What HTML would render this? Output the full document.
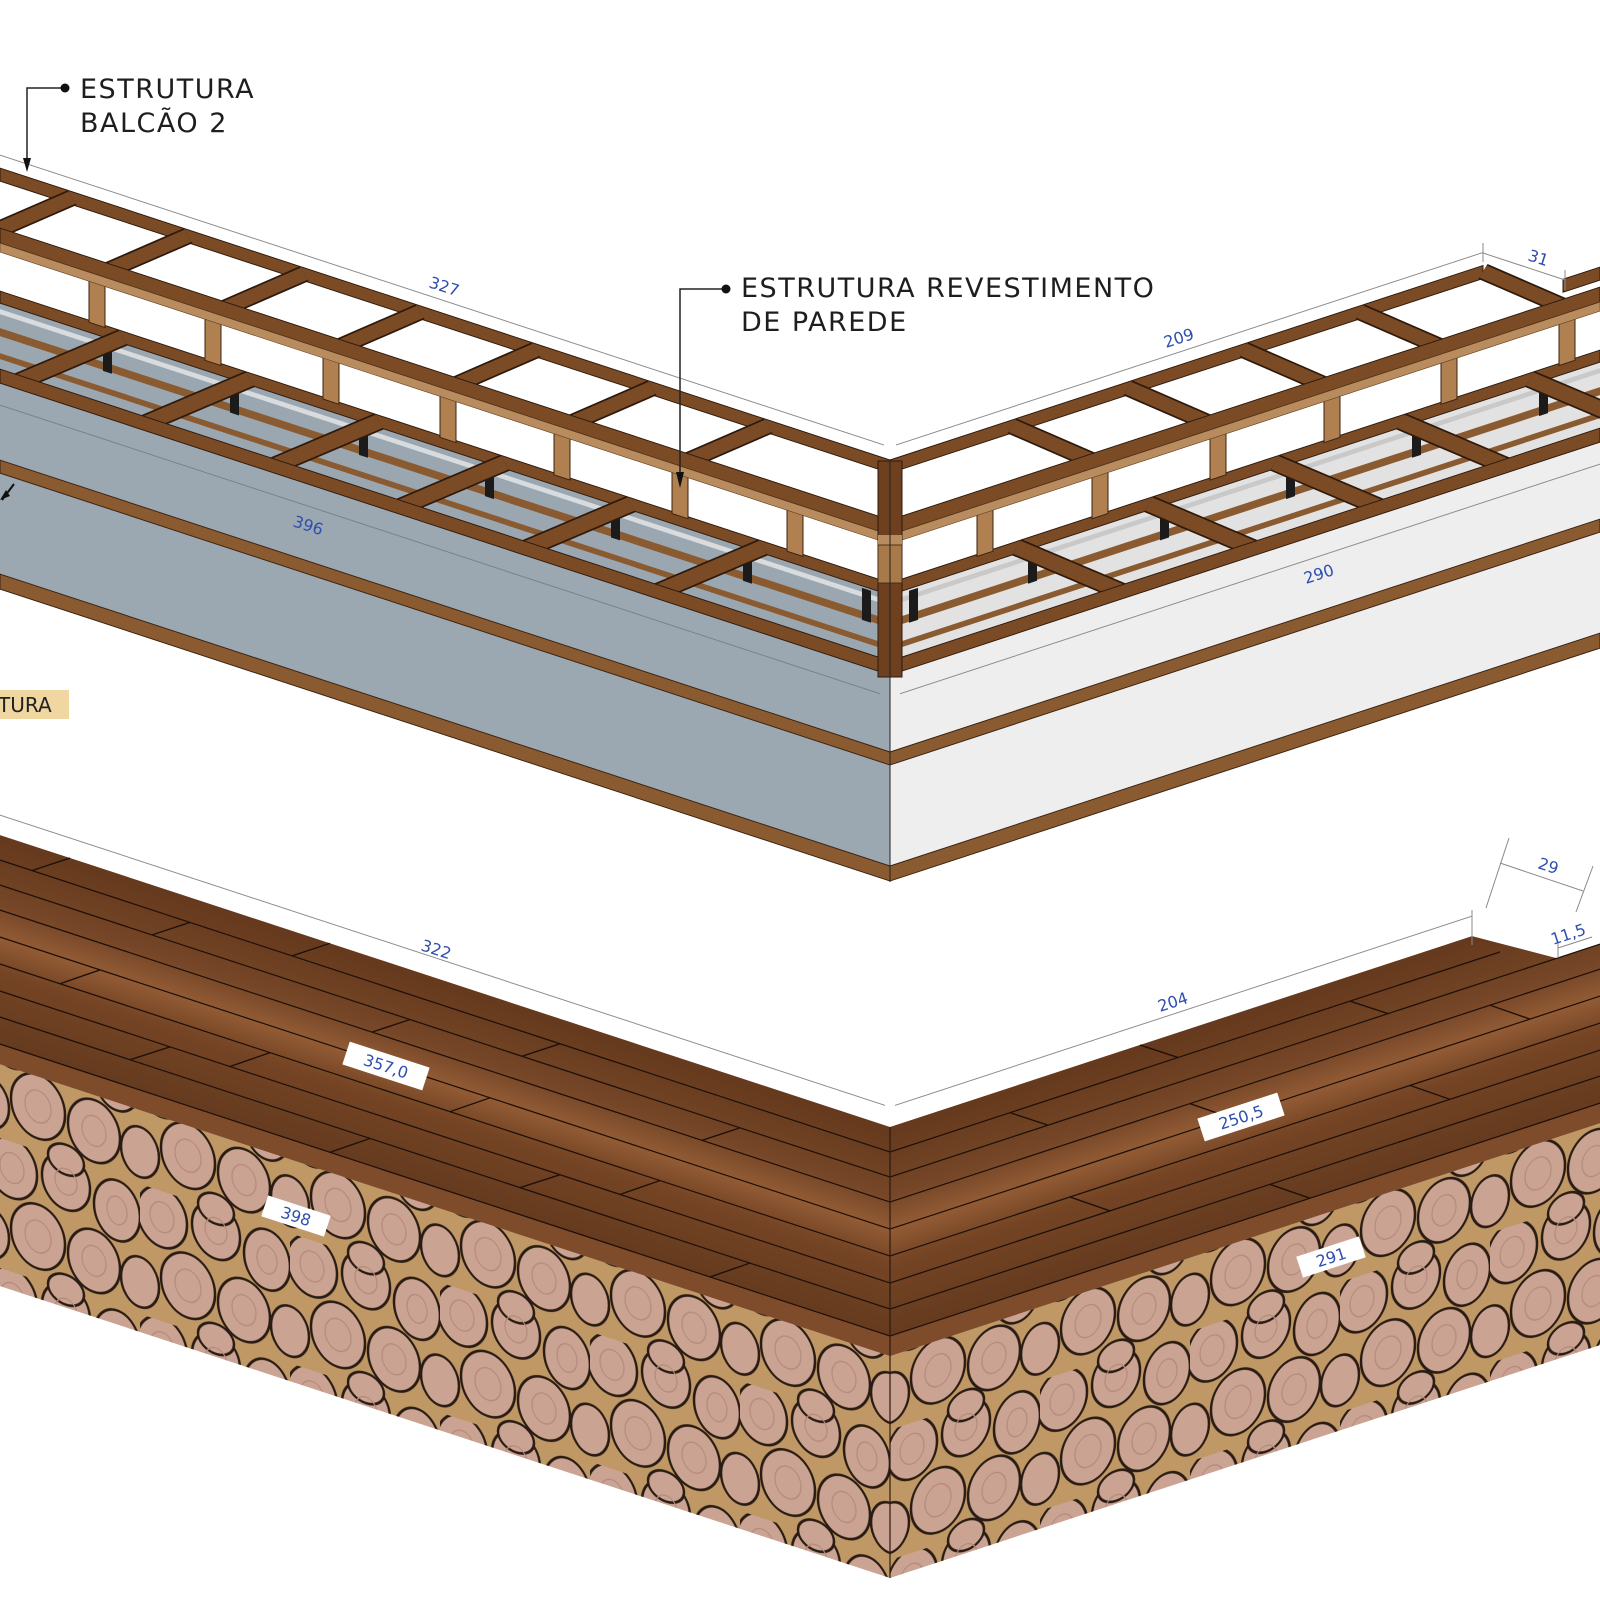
<!DOCTYPE html>
<html><head><meta charset="utf-8"><style>
html,body{margin:0;padding:0;background:#fff;}
svg{display:block;}
text{font-family:"DejaVu Sans","Liberation Sans",sans-serif;}
.dim{fill:#2f4fae;font-size:16px;}
.lbl{fill:#1e1e1e;font-size:27px;letter-spacing:1.5px;}
</style></head><body>
<svg width="1600" height="1600" viewBox="0 0 1600 1600" xmlns="http://www.w3.org/2000/svg">
<defs>
  <pattern id="logs" patternUnits="userSpaceOnUse" width="150" height="130">
    <rect width="150" height="130" fill="#bf9866"/>
    <g fill="#caa393" stroke="#2a1c12" stroke-width="2.5">
      <ellipse cx="22" cy="26" rx="25" ry="30"/>
      <ellipse cx="76" cy="22" rx="24" ry="28"/>
      <ellipse cx="127" cy="34" rx="23" ry="30"/>
      <ellipse cx="48" cy="86" rx="27" ry="32"/>
      <ellipse cx="104" cy="92" rx="26" ry="31"/>
      <ellipse cx="0" cy="98" rx="19" ry="25"/>
      <ellipse cx="150" cy="98" rx="19" ry="25"/>
      <ellipse cx="76" cy="130" rx="18" ry="15"/>
      <ellipse cx="76" cy="0" rx="18" ry="15"/>
    </g>
    <g fill="none" stroke="#b48a7c" stroke-width="1.2">
      <ellipse cx="22" cy="26" rx="12" ry="15"/>
      <ellipse cx="76" cy="22" rx="11" ry="13"/>
      <ellipse cx="127" cy="34" rx="10" ry="14"/>
      <ellipse cx="48" cy="86" rx="13" ry="16"/>
      <ellipse cx="104" cy="92" rx="12" ry="15"/>
    </g>
  </pattern>
  <linearGradient id="wood" x1="0" y1="0" x2="0" y2="1">
    <stop offset="0" stop-color="#65391d"/>
    <stop offset="0.3" stop-color="#754627"/>
    <stop offset="0.45" stop-color="#925b35"/>
    <stop offset="0.6" stop-color="#744424"/>
    <stop offset="1" stop-color="#61381d"/>
  </linearGradient>
</defs>

<!-- ================= UPPER STRUCTURE: LEFT ARM ================= -->
<g transform="translate(890,0) skewY(18.16)">
  <rect x="-890" y="595" width="890" height="72" fill="#9aa6b0"/>
  <rect x="-890" y="601" width="890" height="5" fill="#d9dcdf"/>
  <rect x="-890" y="620" width="890" height="8" fill="#8a5a30"/>
  <rect x="-890" y="645" width="890" height="6" fill="#8a5a30"/>
  <rect x="-890" y="673" width="890" height="208" fill="#9ba7b1"/>
  <rect x="-890" y="752" width="890" height="13" fill="#8a5a30" stroke="#3a2210" stroke-width="1"/>
  <rect x="-890" y="866" width="890" height="15" fill="#8a5a30" stroke="#3a2210" stroke-width="1"/>
  <line x1="-890" y1="447" x2="-6" y2="447" stroke="#8a8a8a" stroke-width="1"/>
  <line x1="-890" y1="697" x2="-10" y2="697" stroke="#7a8088" stroke-width="1"/>
  <rect x="-890" y="583" width="890" height="12" fill="#7b4b26" stroke="#2e1a0c" stroke-width="1"/>
  <g fill="#1b1b1b">
    <rect x="-787" y="597" width="9" height="32"/><rect x="-660" y="597" width="9" height="32"/>
    <rect x="-531" y="597" width="9" height="32"/><rect x="-405" y="597" width="9" height="32"/>
    <rect x="-279" y="597" width="9" height="32"/><rect x="-147" y="597" width="9" height="32"/>
    <rect x="-28" y="597" width="9" height="32"/>
  </g>
  <g stroke="#2e1a0c" stroke-width="16" stroke-linecap="butt">
    <line x1="-767" y1="589" x2="-872" y2="668"/><line x1="-640" y1="589" x2="-745" y2="668"/>
    <line x1="-511" y1="589" x2="-616" y2="668"/><line x1="-385" y1="589" x2="-490" y2="668"/>
    <line x1="-259" y1="589" x2="-364" y2="668"/><line x1="-127" y1="589" x2="-232" y2="668"/>
  </g>
  <g stroke="#7b4b26" stroke-width="13">
    <line x1="-767" y1="589" x2="-872" y2="668"/><line x1="-640" y1="589" x2="-745" y2="668"/>
    <line x1="-511" y1="589" x2="-616" y2="668"/><line x1="-385" y1="589" x2="-490" y2="668"/>
    <line x1="-259" y1="589" x2="-364" y2="668"/><line x1="-127" y1="589" x2="-232" y2="668"/>
  </g>
  <rect x="-890" y="661" width="890" height="14" fill="#7b4b26" stroke="#2e1a0c" stroke-width="1"/>
  <g fill="#b08050" stroke="#3a2210" stroke-width="1">
    <rect x="-801" y="543" width="16" height="42"/><rect x="-685" y="543" width="16" height="42"/>
    <rect x="-567" y="543" width="16" height="42"/><rect x="-450" y="543" width="16" height="42"/>
    <rect x="-336" y="543" width="16" height="42"/><rect x="-218" y="543" width="16" height="42"/>
    <rect x="-103" y="543" width="16" height="42"/>
  </g>
  <rect x="-890" y="460" width="890" height="13" fill="#7b4b26" stroke="#2e1a0c" stroke-width="1"/>
  <g stroke="#2e1a0c" stroke-width="15">
    <line x1="-818" y1="466" x2="-898" y2="527"/><line x1="-702" y1="466" x2="-782" y2="527"/>
    <line x1="-586" y1="466" x2="-666" y2="527"/><line x1="-470" y1="466" x2="-550" y2="527"/>
    <line x1="-354" y1="466" x2="-434" y2="527"/><line x1="-238" y1="466" x2="-318" y2="527"/>
    <line x1="-122" y1="466" x2="-202" y2="527"/>
  </g>
  <g stroke="#7b4b26" stroke-width="12">
    <line x1="-818" y1="466" x2="-898" y2="527"/><line x1="-702" y1="466" x2="-782" y2="527"/>
    <line x1="-586" y1="466" x2="-666" y2="527"/><line x1="-470" y1="466" x2="-550" y2="527"/>
    <line x1="-354" y1="466" x2="-434" y2="527"/><line x1="-238" y1="466" x2="-318" y2="527"/>
    <line x1="-122" y1="466" x2="-202" y2="527"/>
  </g>
  <rect x="-890" y="520" width="890" height="15" fill="#7b4b26" stroke="#2e1a0c" stroke-width="1"/>
  <rect x="-890" y="535" width="890" height="9" fill="#b88c5e" stroke="#5a3a1c" stroke-width="0.6"/>
</g>

<!-- ================= UPPER STRUCTURE: RIGHT ARM ================= -->
<g transform="translate(890,0) skewY(-18.16)">
  <rect x="0" y="595" width="710" height="72" fill="#e2e2e2"/>
  <rect x="0" y="601" width="710" height="5" fill="#c9c9c9"/>
  <rect x="0" y="620" width="710" height="8" fill="#8a5a30"/>
  <rect x="0" y="645" width="710" height="6" fill="#8a5a30"/>
  <rect x="0" y="673" width="710" height="208" fill="#eeeeee"/>
  <rect x="0" y="752" width="710" height="13" fill="#8a5a30" stroke="#3a2210" stroke-width="1"/>
  <rect x="0" y="866" width="710" height="15" fill="#8a5a30" stroke="#3a2210" stroke-width="1"/>
  <line x1="6" y1="447" x2="593" y2="447" stroke="#8a8a8a" stroke-width="1"/>
  <line x1="10" y1="697" x2="710" y2="697" stroke="#8a8a8a" stroke-width="1"/>
  <rect x="0" y="583" width="710" height="12" fill="#7b4b26" stroke="#2e1a0c" stroke-width="1"/>
  <g fill="#1b1b1b">
    <rect x="19" y="597" width="9" height="32"/><rect x="138" y="597" width="9" height="32"/>
    <rect x="270" y="597" width="9" height="32"/><rect x="396" y="597" width="9" height="32"/>
    <rect x="522" y="597" width="9" height="32"/><rect x="649" y="597" width="9" height="32"/>
  </g>
  <g stroke="#2e1a0c" stroke-width="16">
    <line x1="127" y1="589" x2="232" y2="668"/><line x1="259" y1="589" x2="364" y2="668"/>
    <line x1="385" y1="589" x2="490" y2="668"/><line x1="511" y1="589" x2="616" y2="668"/>
    <line x1="640" y1="589" x2="745" y2="668"/>
  </g>
  <g stroke="#7b4b26" stroke-width="13">
    <line x1="127" y1="589" x2="232" y2="668"/><line x1="259" y1="589" x2="364" y2="668"/>
    <line x1="385" y1="589" x2="490" y2="668"/><line x1="511" y1="589" x2="616" y2="668"/>
    <line x1="640" y1="589" x2="745" y2="668"/>
  </g>
  <rect x="0" y="661" width="710" height="14" fill="#7b4b26" stroke="#2e1a0c" stroke-width="1"/>
  <g fill="#b08050" stroke="#3a2210" stroke-width="1">
    <rect x="87" y="543" width="16" height="42"/><rect x="202" y="543" width="16" height="42"/>
    <rect x="320" y="543" width="16" height="42"/><rect x="434" y="543" width="16" height="42"/>
    <rect x="551" y="543" width="16" height="42"/><rect x="669" y="543" width="16" height="42"/>
  </g>
  <rect x="0" y="460" width="593" height="13" fill="#7b4b26" stroke="#2e1a0c" stroke-width="1"/>
  <rect x="673" y="500" width="37" height="13" fill="#7b4b26" stroke="#2e1a0c" stroke-width="1"/>
  <g stroke="#2e1a0c" stroke-width="15">
    <line x1="122" y1="466" x2="202" y2="527"/><line x1="238" y1="466" x2="318" y2="527"/>
    <line x1="354" y1="466" x2="434" y2="527"/><line x1="470" y1="466" x2="550" y2="527"/>
    <line x1="593" y1="466" x2="673" y2="527"/>
  </g>
  <g stroke="#7b4b26" stroke-width="12">
    <line x1="122" y1="466" x2="202" y2="527"/><line x1="238" y1="466" x2="318" y2="527"/>
    <line x1="354" y1="466" x2="434" y2="527"/><line x1="470" y1="466" x2="550" y2="527"/>
    <line x1="593" y1="466" x2="673" y2="527"/>
  </g>
  <rect x="0" y="520" width="710" height="15" fill="#7b4b26" stroke="#2e1a0c" stroke-width="1"/>
  <rect x="0" y="535" width="710" height="9" fill="#b88c5e" stroke="#5a3a1c" stroke-width="0.6"/>
</g>

<!-- corner post -->
<rect x="878" y="461" width="24" height="216" fill="#6e4020" stroke="#2e1a0c" stroke-width="1"/>
<rect x="878" y="535" width="24" height="10" fill="#b88c5e"/>
<rect x="878" y="545" width="24" height="38" fill="#a87a4a" stroke="#3a2210" stroke-width="0.8"/>
<line x1="890" y1="461" x2="890" y2="882" stroke="#222" stroke-width="1"/>

<!-- ================= LOWER COUNTER: LEFT ================= -->
<g transform="translate(890,0) skewY(18.16)">
  <rect x="-890" y="1356" width="890" height="222" fill="url(#logs)"/>
  <rect x="-890" y="1127" width="890" height="229" fill="url(#wood)"/>
  <rect x="-890" y="1336" width="890" height="20" fill="#7e4c2b"/>
  <g stroke="#1e1008" stroke-width="1.3">
    <line x1="-890" y1="1152" x2="0" y2="1152"/><line x1="-890" y1="1177" x2="0" y2="1177"/>
    <line x1="-890" y1="1202" x2="0" y2="1202"/><line x1="-890" y1="1229" x2="0" y2="1229"/>
    <line x1="-890" y1="1256" x2="0" y2="1256"/><line x1="-890" y1="1283" x2="0" y2="1283"/>
    <line x1="-890" y1="1309" x2="0" y2="1309"/><line x1="-890" y1="1336" x2="0" y2="1336"/>
  </g>
  <g stroke="#1e1008" stroke-width="1.2">
    <line x1="-820" y1="1127" x2="-858" y2="1152"/><line x1="-560" y1="1127" x2="-598" y2="1152"/>
    <line x1="-700" y1="1152" x2="-738" y2="1177"/><line x1="-330" y1="1152" x2="-368" y2="1177"/>
    <line x1="-480" y1="1177" x2="-518" y2="1202"/><line x1="-150" y1="1177" x2="-188" y2="1202"/>
    <line x1="-790" y1="1229" x2="-830" y2="1256"/><line x1="-400" y1="1229" x2="-440" y2="1256"/>
    <line x1="-620" y1="1256" x2="-660" y2="1283"/><line x1="-230" y1="1256" x2="-270" y2="1283"/>
    <line x1="-720" y1="1283" x2="-760" y2="1309"/><line x1="-330" y1="1283" x2="-370" y2="1309"/>
    <line x1="-520" y1="1309" x2="-560" y2="1336"/><line x1="-140" y1="1309" x2="-180" y2="1336"/>
  </g>
  <line x1="-890" y1="1107" x2="-5" y2="1107" stroke="#8a8a8a" stroke-width="1"/>
</g>

<!-- ================= LOWER COUNTER: RIGHT ================= -->
<g transform="translate(890,0) skewY(-18.16)">
  <rect x="0" y="1356" width="710" height="222" fill="url(#logs)"/>
  <polygon points="0,1127 582,1127 667,1177 710,1177 710,1356 0,1356" fill="url(#wood)"/>
  <rect x="0" y="1336" width="710" height="20" fill="#7e4c2b"/>
  <g stroke="#1e1008" stroke-width="1.3">
    <line x1="0" y1="1152" x2="610" y2="1152"/><line x1="0" y1="1177" x2="710" y2="1177"/>
    <line x1="0" y1="1202" x2="710" y2="1202"/><line x1="0" y1="1229" x2="710" y2="1229"/>
    <line x1="0" y1="1256" x2="710" y2="1256"/><line x1="0" y1="1283" x2="710" y2="1283"/>
    <line x1="0" y1="1309" x2="710" y2="1309"/><line x1="0" y1="1336" x2="710" y2="1336"/>
  </g>
  <g stroke="#1e1008" stroke-width="1.2">
    <line x1="250" y1="1127" x2="288" y2="1152"/><line x1="120" y1="1152" x2="158" y2="1177"/>
    <line x1="460" y1="1152" x2="498" y2="1177"/><line x1="300" y1="1202" x2="340" y2="1229"/>
    <line x1="600" y1="1202" x2="640" y2="1229"/><line x1="180" y1="1256" x2="220" y2="1283"/>
    <line x1="520" y1="1256" x2="560" y2="1283"/><line x1="380" y1="1309" x2="420" y2="1336"/>
  </g>
  <line x1="5" y1="1107" x2="582" y2="1107" stroke="#8a8a8a" stroke-width="1"/>
</g>
<line x1="890" y1="1127" x2="890" y2="1578" stroke="#2a1a10" stroke-width="1.2"/>

<!-- small dims top right / bottom right -->
<g stroke="#8a8a8a" stroke-width="1" fill="none">
  <line x1="1483" y1="253" x2="1565" y2="280"/>
  <line x1="1483" y1="243" x2="1483" y2="262"/>
  <line x1="1565" y1="270" x2="1565" y2="290"/>
  <line x1="1500" y1="863" x2="1583" y2="891"/>
  <line x1="1509" y1="838" x2="1486" y2="908"/>
  <line x1="1593" y1="866" x2="1576" y2="912"/>
  <line x1="1558" y1="948" x2="1592" y2="937"/>
  <line x1="1558" y1="942" x2="1558" y2="958"/>
  <line x1="1472" y1="910" x2="1472" y2="945"/>
</g>

<text class="dim" transform="translate(428,287) rotate(18)">327</text>
<text class="dim" transform="translate(292,526) rotate(18)">396</text>
<text class="dim" transform="translate(1166,348) rotate(-18)">209</text>
<text class="dim" transform="translate(1306,584) rotate(-18)">290</text>
<text class="dim" transform="translate(1527,260) rotate(18)">31</text>
<text class="dim" transform="translate(420,950) rotate(18)">322</text>
<text class="dim" transform="translate(1160,1012) rotate(-18)">204</text>
<text class="dim" transform="translate(1537,868) rotate(18)">29</text>
<text class="dim" transform="translate(1553,945) rotate(-18)">11,5</text>

<g transform="translate(386,1066) rotate(18)"><rect x="-42" y="-12" width="84" height="24" fill="#fff"/><text class="dim" x="0" y="6" text-anchor="middle">357,0</text></g>
<g transform="translate(1241,1117) rotate(-18)"><rect x="-42" y="-12" width="84" height="24" fill="#fff"/><text class="dim" x="0" y="6" text-anchor="middle">250,5</text></g>
<g transform="translate(296,1216) rotate(18)"><rect x="-33" y="-11" width="66" height="22" fill="#fff"/><text class="dim" x="0" y="6" text-anchor="middle">398</text></g>
<g transform="translate(1331,1257) rotate(-18)"><rect x="-33" y="-11" width="66" height="22" fill="#fff"/><text class="dim" x="0" y="6" text-anchor="middle">291</text></g>

<g stroke="#222" stroke-width="1.5" fill="none">
  <polyline points="65,88 27,88 27,162"/>
  <polyline points="726,289 680,289 680,478"/>
</g>
<circle cx="65" cy="88" r="4.5" fill="#111"/>
<circle cx="726" cy="289" r="4.5" fill="#111"/>
<polygon points="23,158 31,158 27,172" fill="#111"/>
<polygon points="676,472 684,472 680,488" fill="#111"/>
<text class="lbl" x="80" y="98">ESTRUTURA</text>
<text class="lbl" x="80" y="132">BALCÃO 2</text>
<text class="lbl" x="741" y="297">ESTRUTURA REVESTIMENTO</text>
<text class="lbl" x="741" y="331">DE PAREDE</text>

<rect x="0" y="690" width="69" height="29" fill="#f0d6a0"/>
<text x="-2" y="712" font-size="20" fill="#222">TURA</text>
<line x1="14" y1="484" x2="2" y2="500" stroke="#111" stroke-width="2"/>
<polygon points="0,500 6,490 10,496" fill="#111"/>
</svg>
</body></html>
